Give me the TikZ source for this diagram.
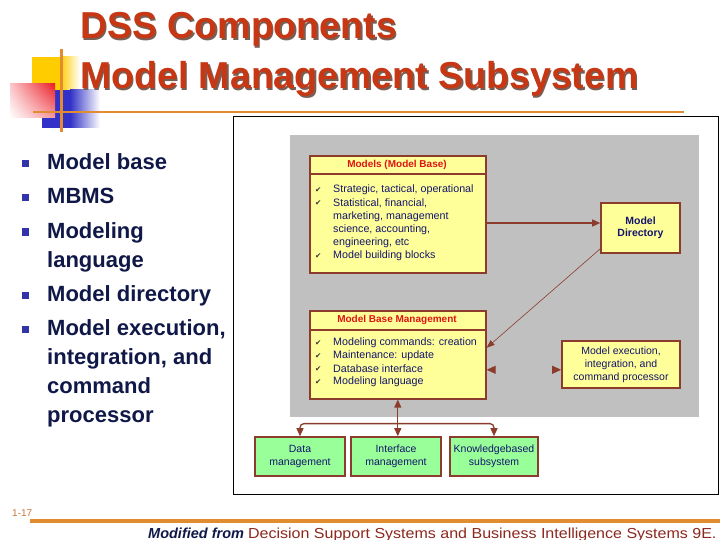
\documentclass[tikz,border=0pt]{standalone}
\usepackage{fontspec}
\setmainfont{Liberation Sans}
\newfontfamily\dejavu{DejaVu Sans}
\usetikzlibrary{arrows.meta,shadings}
\definecolor{titlered}{RGB}{200,55,20}
\definecolor{titleshadow}{RGB}{120,95,85}
\definecolor{navy}{RGB}{16,24,72}
\definecolor{bulblue}{RGB}{51,51,170}
\definecolor{decoorange}{RGB}{226,140,50}
\definecolor{decoyellow}{RGB}{255,204,0}
\definecolor{decoblue}{RGB}{50,50,200}
\definecolor{decored}{RGB}{235,30,40}
\definecolor{bcol}{RGB}{140,60,45}
\definecolor{boxyellow}{RGB}{255,255,153}
\definecolor{boxgreen}{RGB}{153,255,153}
\definecolor{graybg}{RGB}{192,192,192}
\definecolor{hdred}{RGB}{220,20,20}
\definecolor{diagnavy}{RGB}{20,20,110}
\definecolor{footred}{RGB}{140,40,30}
\definecolor{pagenum}{RGB}{200,120,60}
\tikzset{
  titletext/.style={anchor=base west, inner sep=0pt, font=\fontsize{37.5}{37.5}\selectfont\bfseries},
  bul/.style={fill=bulblue, minimum size=7pt, inner sep=0pt},
  btxt/.style={anchor=base west, inner sep=0pt, text=navy, font=\fontsize{22}{22}\selectfont\bfseries},
  ybox/.style={draw=bcol, line width=1.6pt, fill=boxyellow, inner sep=0pt},
  gbox/.style={draw=bcol, line width=1.6pt, fill=boxgreen, inner sep=0pt, text=diagnavy, align=center,
    font=\fontsize{10.5}{12.5}\selectfont},
  hdtext/.style={text=hdred, inner sep=0pt, font=\fontsize{10}{12}\selectfont\bfseries},
  bodytext/.style={anchor=west, inner sep=0pt, text=diagnavy, font=\fontsize{10.7}{12}\selectfont},
  chk/.style={anchor=west, inner sep=0pt, text=black!80, font=\dejavu\fontsize{7.5}{8}\selectfont},
  arr/.style={draw=bcol, line width=1.3pt, -{Triangle[length=8pt,width=7pt]}},
  darr/.style={draw=bcol, line width=1.3pt, {Triangle[length=8pt,width=7pt]}-{Triangle[length=8pt,width=7pt]}}
}
\begin{document}
\begin{tikzpicture}[x=1pt,y=-1pt]
\useasboundingbox (0,0) rectangle (720,540);
\fill[white] (0,0) rectangle (720,540);

% decoration
\fill[decoyellow] (32,57) rectangle (60,90);
\shade[left color=decoyellow, right color=white] (60,57) rectangle (80,90);
\fill[decoblue] (42,90) rectangle (70,128);
\shade[left color=decoblue, right color=white] (70,90) rectangle (100,128);
\shade[upper left=decored!25!white, upper right=decored, lower left=white, lower right=decored!45!white] (10,84) rectangle (55,118);
\draw[decoorange, line width=2.5pt] (61.5,49) -- (61.5,132);
\draw[decoorange, line width=2.5pt] (33,112) -- (684,112);

% title
\node[titletext, text=titleshadow] at (81.5,40.5) {DSS Components};
\node[titletext, text=titlered] (t1) at (80,39) {DSS Components};
\node[titletext, text=titleshadow] at (81.5,90.5) {Model Management Subsystem};
\node[titletext, text=titlered] (t2) at (80,89) {Model Management Subsystem};

% bullets
\node[bul] (q1) at (25,164) {};
\node[btxt] (b1) at (47,170) {Model base};
\node[bul] (q2) at (25,198) {};
\node[btxt] (b2) at (47,204) {MBMS};
\node[bul] (q3) at (25,232) {};
\node[btxt] (b3) at (47,238) {Modeling};
\node[btxt] (b3b) at (47,267) {language};
\node[bul] (q4) at (25,295) {};
\node[btxt] (b4) at (47,301) {Model directory};
\node[bul] (q5) at (25,329) {};
\node[btxt] (b5) at (47,335) {Model execution,};
\node[btxt] (b5b) at (47,364) {integration, and};
\node[btxt] (b5c) at (47,393) {command};
\node[btxt] (b5d) at (47,422) {processor};

% picture frame and gray area
\draw[black, line width=1pt] (233,117) rectangle (718,494);
\fill[graybg] (290,135) rectangle (699,417);

% Models box
\node[ybox, anchor=north west, minimum width=176pt, minimum height=117pt] (mb) at (309,155) {};
\draw[bcol, line width=1.6pt] (309,174) -- (485,174);
\node[hdtext] (mbh) at (397,164.5) {Models (Model Base)};
\node[chk] at (315,190) {✔};
\node[bodytext] at (333,190) {Strategic, tactical, operational};
\node[chk] at (315,203) {✔};
\node[bodytext] at (333,203) {Statistical, financial,};
\node[bodytext] at (333,216.5) {marketing, management};
\node[bodytext] at (333,229.5) {science, accounting,};
\node[bodytext] at (333,242.5) {engineering, etc};
\node[chk] at (315,256) {✔};
\node[bodytext] at (333,256) {Model building blocks};

% Model directory
\node[ybox, minimum width=79pt, minimum height=50pt, text=diagnavy, align=center,
  font=\fontsize{10.5}{12.5}\selectfont\bfseries] (md) at (640.5,228) {Model\\Directory};

% MBM box
\node[ybox, anchor=north west, minimum width=176pt, minimum height=88pt] (mbm) at (309,310) {};
\draw[bcol, line width=1.6pt] (309,330) -- (485,330);
\node[hdtext] (mbmh) at (397,320) {Model Base Management};
\node[chk] at (315,343) {✔};
\node[bodytext] at (333,343) {Modeling commands: creation};
\node[chk] at (315,356) {✔};
\node[bodytext] at (333,356) {Maintenance: update};
\node[chk] at (315,369) {✔};
\node[bodytext] at (333,369) {Database interface};
\node[chk] at (315,382) {✔};
\node[bodytext] at (333,382) {Modeling language};

% Model execution
\node[ybox, minimum width=118pt, minimum height=47pt, text=diagnavy, align=center,
  font=\fontsize{10.5}{13}\selectfont] (mx) at (621,364.5) {Model execution,\\integration, and\\command processor};

% green boxes
\node[gbox, minimum width=90pt, minimum height=39pt] (dm) at (300,456.5) {Data\\management};
\node[gbox, minimum width=90pt, minimum height=39pt] (im) at (396,456.5) {Interface\\management};
\node[gbox, minimum width=88pt, minimum height=39pt] (kb) at (494,456.5) {Knowledgebased\\subsystem};

% connectors
\draw[arr] ([yshift=5pt]md.west -| mb.east) -- ([yshift=5pt]md.west);
\draw[draw=bcol, line width=0.6pt, -{Triangle[length=8pt,width=6pt]}] ([xshift=1pt,yshift=-20pt]md.west) -- ([yshift=7pt]mbm.east);
\draw[draw=graybg, line width=1pt, {Triangle[length=9pt,width=8pt,color=bcol]}-{Triangle[length=9pt,width=8pt,color=bcol]}]
  ([yshift=-15pt]mbm.east) -- ([yshift=-15pt]mbm.east -| mx.west);
\coordinate (br) at ([yshift=-24pt]mbm.south);
\draw[darr] (mbm.south) -- (mbm.south |- im.north);
\draw[arr, rounded corners=4pt] (br) -| (dm.north);
\draw[arr, rounded corners=4pt] (br) -| (kb.north);

% footer
\node[anchor=base west, inner sep=0pt, text=pagenum, font=\fontsize{10}{10}\selectfont] (pn) at (12,516) {1-17};
\draw[decoorange, line width=4pt] (30,520.5) -- (720,520.5);
\node[anchor=base west, inner sep=0pt, font=\fontsize{14.5}{15}\selectfont] (ft) at (148,538)
  {\textcolor{navy}{\bfseries\itshape Modified from} \textcolor{footred}{\scalebox{1.105}[1]{Decision Support Systems and Business Intelligence Systems 9E.}}};
\end{tikzpicture}
\end{document}
